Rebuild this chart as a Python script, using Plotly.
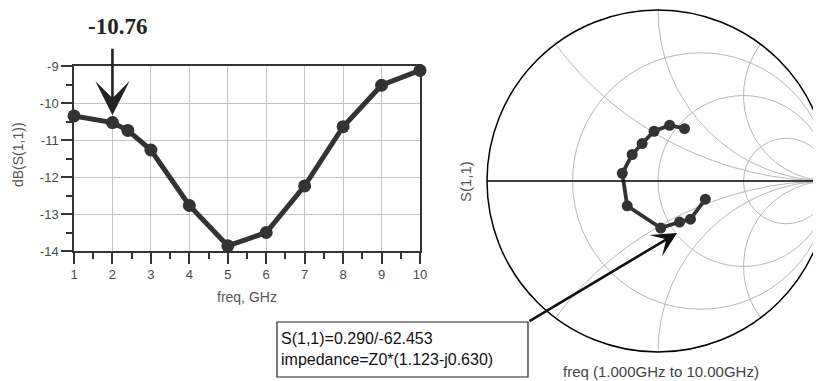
import numpy as np
import plotly.graph_objects as go

# ---------------- data ----------------
freq_ghz = [1, 2, 2.4, 3, 4, 5, 6, 7, 8, 9, 10]
db_s11 = [-10.35, -10.53, -10.74, -11.27, -12.77, -13.86, -13.50, -12.24, -10.64, -9.52, -9.12]

# reflection coefficient (1 GHz ... 10 GHz)
gamma_re = [0.277, 0.190, 0.126, 0.016, -0.180, -0.209, -0.151, -0.093, -0.023, 0.068, 0.155]
gamma_im = [-0.106, -0.223, -0.240, -0.275, -0.145, 0.045, 0.155, 0.219, 0.291, 0.326, 0.306]

x_ticks = [1, 2, 3, 4, 5, 6, 7, 8, 9, 10]
y_ticks = [-14, -13, -12, -11, -10, -9]
y_tick_labels = ["-14", "-13", "-12", "-11", "-10", "-9"]

resistance_circles = [1 / 3, 1, 3]
reactance_arcs = [-2, -1, -0.5, 0.5, 1, 2]

marker_label = "-10.76"
marker_freq = 2
box_lines = ["S(1,1)=0.290/-62.453", "impedance=Z0*(1.123-j0.630)"]

# normalized impedance for the Smith trace
g = np.array(gamma_re) + 1j * np.array(gamma_im)
z = (1 + g) / (1 - g)

W, H = 821, 381
OFF = 8  # the page body keeps the browser's default 8px margin


def px(x):
    return (x - OFF) / W


def py(y):
    return 1 - (y - OFF) / H


DARK = "#333333"
GRID = "#c4c4c4"
TXT = "#4a4a4a"
FONT = "Liberation Sans, Arial, sans-serif"

fig = go.Figure()
fig.add_trace(go.Scatter(
    x=freq_ghz, y=db_s11, mode="lines+markers",
    line=dict(color=DARK, width=5),
    marker=dict(size=13, color=DARK),
    showlegend=False, cliponaxis=False,
))
fig.add_trace(go.Scattersmith(
    real=z.real, imag=z.imag, mode="lines+markers",
    line=dict(color=DARK, width=3.8),
    marker=dict(size=11, color=DARK),
    showlegend=False, subplot="smith",
))

axis_common = dict(
    showline=True, mirror=True, linecolor=DARK, linewidth=1.5,
    showgrid=True, gridcolor=GRID, gridwidth=1,
    ticks="outside", ticklen=11, tickwidth=1.5, tickcolor=DARK,
    tickfont=dict(family=FONT, size=13, color=TXT),
    zeroline=False, automargin=False,
)

fig.update_layout(
    width=W, height=H,
    margin=dict(l=0, r=0, t=0, b=0, pad=0, autoexpand=False),
    showlegend=False,
    paper_bgcolor="white", plot_bgcolor="white",
    font=dict(family=FONT, color=TXT),
    xaxis=dict(
        domain=[px(74), px(420)], range=[1, 10],
        tickvals=x_ticks,
        minor=dict(ticks="outside", ticklen=6, tickwidth=1.5, tickcolor=DARK, dtick=0.5, showgrid=False),
        **axis_common,
    ),
    yaxis=dict(
        domain=[py(251), py(66)], range=[-14, -9],
        tickvals=y_ticks, ticktext=y_tick_labels,
        minor=dict(ticks="outside", ticklen=6, tickwidth=1.5, tickcolor=DARK, dtick=0.5, showgrid=False),
        **axis_common,
    ),
    smith=dict(
        domain=dict(x=[px(487), 1.0], y=[py(352), py(10)]),
        bgcolor="white",
        realaxis=dict(
            tickvals=resistance_circles, showticklabels=False, ticks="",
            showgrid=True, gridcolor="#b8b8b8", gridwidth=1,
            showline=True, linecolor="black", linewidth=1.5,
        ),
        imaginaryaxis=dict(
            tickvals=reactance_arcs, showticklabels=False, ticks="",
            showgrid=True, gridcolor="#b8b8b8", gridwidth=1,
            showline=True, linecolor="black", linewidth=1.5,
        ),
    ),
)


def label(x, y, text, **kw):
    kw.setdefault("xanchor", "center")
    kw.setdefault("yanchor", "middle")
    fig.add_annotation(xref="paper", yref="paper", x=px(x), y=py(y), text=text,
                       showarrow=False, **kw)


# axis titles
label(18, 155, "dB(S(1,1))", textangle=-90, font=dict(family=FONT, size=14, color="#555"))
label(247, 297, "freq, GHz", font=dict(family=FONT, size=14, color="#555"))
label(465, 181, "S(1,1)", textangle=-90, font=dict(family=FONT, size=15, color="#555"))
label(661, 371, "freq (1.000GHz to 10.00GHz)", font=dict(family=FONT, size=15, color="#444"))

# marker label + arrow on the dB plot
label(117, 27, "<b>" + marker_label + "</b>",
      font=dict(family="Liberation Serif, Times New Roman, serif", size=23, color="#222"))
fig.add_annotation(xref="x", yref="y", x=marker_freq, y=-10.33, text="", showarrow=True,
                   ax=0, ay=-68, arrowhead=3, arrowsize=2.2, arrowwidth=2.6, arrowcolor="#222")

# impedance readout box + arrow on the Smith chart
fig.add_shape(type="rect", xref="paper", yref="paper",
              x0=px(277), x1=px(528), y0=py(377), y1=py(322),
              line=dict(color="#222", width=1.2), fillcolor="white")
label(279, 349, "<br>".join(box_lines), xanchor="left", align="left",
      font=dict(family=FONT, size=16, color="#111"))
fig.add_annotation(xref="paper", yref="paper", x=px(677), y=py(233), text="", showarrow=True,
                   axref="pixel", ayref="pixel", ax=528 - 677, ay=322 - 233,
                   arrowhead=3, arrowsize=1.6, arrowwidth=2.6, arrowcolor="#111")

fig.write_html("out.html")
